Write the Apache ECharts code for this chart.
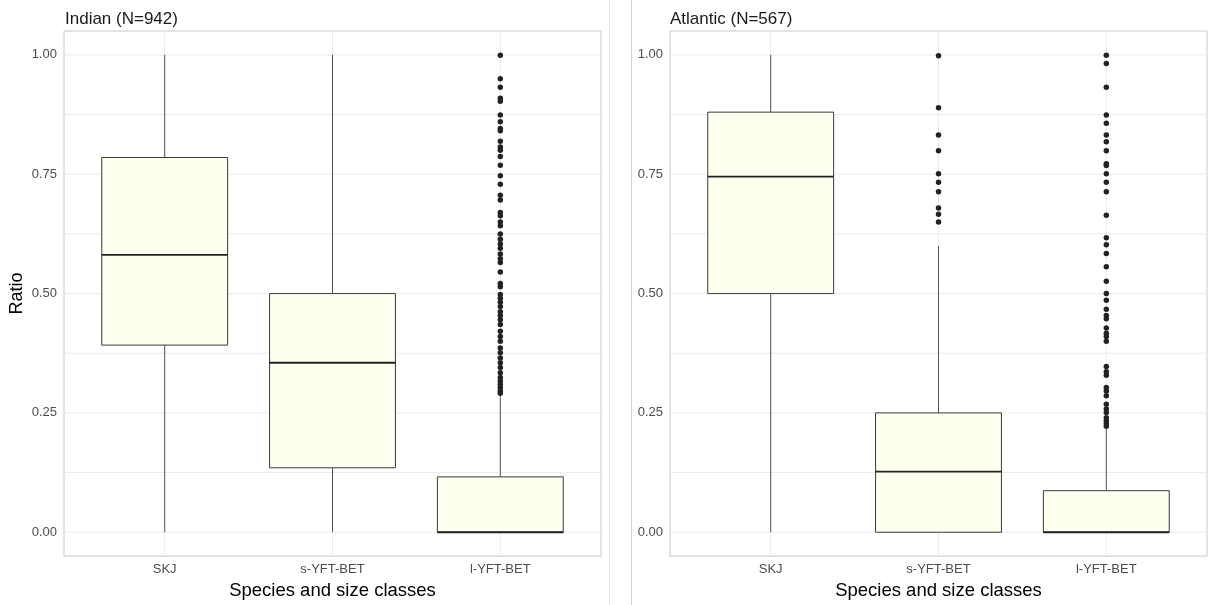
<!DOCTYPE html>
<html>
<head>
<meta charset="utf-8">
<script src="https://cdn.jsdelivr.net/npm/echarts@6/dist/echarts.min.js"></script>
<style>
html,body{margin:0;padding:0;background:#fff;}
#chart{width:1210px;height:605px;}
</style>
</head>
<body>
<div id="chart"></div>
<script>
// ---- data ----
const categories = ['SKJ', 's-YFT-BET', 'l-YFT-BET'];
const yTicks = [0, 0.25, 0.5, 0.75, 1.0];
const yGrid = [0, 0.125, 0.25, 0.375, 0.5, 0.625, 0.75, 0.875, 1.0];
const panelTitles = ['Indian (N=942)', 'Atlantic (N=567)'];

// [lower whisker, Q1, median, Q3, upper whisker]
const indianBoxes = [
  [0, 0.392, 0.581, 0.785, 1.0],
  [0, 0.135, 0.355, 0.500, 1.0],
  [0, 0.0, 0.0, 0.116, 0.289]
];
const atlanticBoxes = [
  [0, 0.500, 0.745, 0.880, 1.0],
  [0, 0.0, 0.127, 0.250, 0.600],
  [0, 0.0, 0.0, 0.087, 0.218]
];

const indianOutliersL = [0.999, 0.950, 0.932, 0.909, 0.903, 0.874, 0.860, 0.846, 0.841, 0.819, 0.807, 0.800,
  0.787, 0.769, 0.747, 0.729, 0.706, 0.696, 0.670, 0.663, 0.650, 0.642, 0.625, 0.614, 0.604, 0.595, 0.583,
  0.573, 0.565, 0.545, 0.521, 0.514, 0.498, 0.490, 0.482, 0.473, 0.462, 0.454, 0.445, 0.435, 0.421, 0.410,
  0.400, 0.386, 0.376, 0.365, 0.355, 0.345, 0.334, 0.324, 0.317, 0.310, 0.303, 0.296, 0.291];

const atlanticOutliersS = [0.998, 0.889, 0.832, 0.799, 0.751, 0.733, 0.713, 0.679, 0.666, 0.650];
const atlanticOutliersL = [0.999, 0.982, 0.932, 0.874, 0.857, 0.832, 0.818, 0.799, 0.772, 0.768, 0.751,
  0.733, 0.713, 0.664, 0.617, 0.602, 0.584, 0.556, 0.526, 0.500, 0.486, 0.467, 0.454, 0.447, 0.428, 0.417,
  0.410, 0.400, 0.347, 0.336, 0.329, 0.303, 0.296, 0.286, 0.268, 0.258, 0.251, 0.240, 0.233, 0.227, 0.222];

// ---- helpers ----
const FONT = '"Liberation Sans", Arial, sans-serif';
const BOX_HALF = 0.375;
const X_MIN = 0.4, X_MAX = 3.6;

function boxData(boxes) {
  return boxes.map((b, i) => [i + 1].concat(b));
}
function outlierData(idx, vals) {
  return vals.map(v => [idx, v]);
}

function renderBox(params, api) {
  const x = api.value(0);
  const lo = api.value(1), q1 = api.value(2), med = api.value(3), q3 = api.value(4), hi = api.value(5);
  const pL = api.coord([x - BOX_HALF, q3]);
  const pR = api.coord([x + BOX_HALF, q1]);
  const c = api.coord([x, 0]);
  const yLo = api.coord([x, lo])[1], yHi = api.coord([x, hi])[1];
  const yQ1 = pR[1], yQ3 = pL[1];
  const yMed = api.coord([x, med])[1];
  const children = [];
  if (hi > q3) children.push({type: 'line', shape: {x1: c[0], y1: yHi, x2: c[0], y2: yQ3}, style: {stroke: '#555', lineWidth: 1}});
  if (lo < q1) children.push({type: 'line', shape: {x1: c[0], y1: yQ1, x2: c[0], y2: yLo}, style: {stroke: '#555', lineWidth: 1}});
  children.push({type: 'rect', shape: {x: pL[0], y: yQ3, width: pR[0] - pL[0], height: yQ1 - yQ3},
    style: {fill: '#FEFFEE', stroke: '#3a3a3a', lineWidth: 1}});
  children.push({type: 'line', shape: {x1: pL[0], y1: yMed, x2: pR[0], y2: yMed}, style: {stroke: '#222', lineWidth: 1.8}});
  return {type: 'group', children: children};
}

function renderHGrid(params, api) {
  const v = api.value(0);
  const a = api.coord([X_MIN, v]), b = api.coord([X_MAX, v]);
  return {type: 'line', shape: {x1: a[0], y1: a[1], x2: b[0], y2: b[1]}, style: {stroke: '#ebebeb', lineWidth: 1}};
}
function renderVGrid(params, api) {
  const v = api.value(0);
  const a = api.coord([v, -0.05]), b = api.coord([v, 1.05]);
  return {type: 'line', shape: {x1: a[0], y1: a[1], x2: b[0], y2: b[1]}, style: {stroke: '#ebebeb', lineWidth: 1}};
}

const grids = [
  {left: 64, top: 31, width: 537, height: 529, show: true, borderColor: '#c8c8c8', borderWidth: 1, backgroundColor: 'transparent'},
  {left: 670, top: 31, width: 537, height: 529, show: true, borderColor: '#c8c8c8', borderWidth: 1, backgroundColor: 'transparent'}
];

function xAxisFor(g) {
  return {
    type: 'value', gridIndex: g, min: X_MIN, max: X_MAX,
    name: 'Species and size classes', nameLocation: 'middle', nameGap: 23,
    nameTextStyle: {fontFamily: FONT, fontSize: 18.5, color: '#000'},
    axisLine: {show: false}, axisTick: {show: false}, splitLine: {show: false},
    axisLabel: {customValues: [1, 2, 3], formatter: v => categories[Math.round(v) - 1] || '',
      fontFamily: FONT, fontSize: 13, color: '#4d4d4d', margin: 7}
  };
}
function yAxisFor(g) {
  const ax = {
    type: 'value', gridIndex: g, min: -0.05, max: 1.05,
    axisLine: {show: false}, axisTick: {show: false}, splitLine: {show: false},
    axisLabel: {customValues: yTicks, formatter: v => v.toFixed(2),
      fontFamily: FONT, fontSize: 13, color: '#4d4d4d', margin: 7}
  };
  if (g === 0) {
    ax.name = 'Ratio';
    ax.nameLocation = 'middle';
    ax.nameGap = 38;
    ax.nameTextStyle = {fontFamily: FONT, fontSize: 18, color: '#000'};
  }
  return ax;
}

const series = [];
[indianBoxes, atlanticBoxes].forEach((boxes, g) => {
  series.push({type: 'custom', xAxisIndex: g, yAxisIndex: g, z: 1, silent: true,
    renderItem: renderHGrid, data: yGrid.map(v => [v]), encode: {x: [], y: 0}, clip: true});
  series.push({type: 'custom', xAxisIndex: g, yAxisIndex: g, z: 1, silent: true,
    renderItem: renderVGrid, data: [1, 2, 3].map(v => [v]), encode: {x: 0, y: []}, clip: true});
  series.push({type: 'custom', xAxisIndex: g, yAxisIndex: g, z: 2, silent: true,
    renderItem: renderBox, data: boxData(boxes), encode: {x: 0, y: [1, 2, 3, 4, 5]}});
});
series.push({type: 'scatter', xAxisIndex: 0, yAxisIndex: 0, z: 3, silent: true, symbolSize: 5.5,
  itemStyle: {color: '#222', opacity: 1}, data: outlierData(3, indianOutliersL)});
series.push({type: 'scatter', xAxisIndex: 1, yAxisIndex: 1, z: 3, silent: true, symbolSize: 5.5,
  itemStyle: {color: '#222', opacity: 1}, data: outlierData(2, atlanticOutliersS).concat(outlierData(3, atlanticOutliersL))});

const option = {
  animation: false,
  backgroundColor: '#fff',
  title: [
    {text: panelTitles[0], left: 65, top: 11, padding: 0, textStyle: {fontFamily: FONT, fontSize: 17, fontWeight: 'normal', color: '#1a1a1a'}},
    {text: panelTitles[1], left: 670, top: 11, padding: 0, textStyle: {fontFamily: FONT, fontSize: 17, fontWeight: 'normal', color: '#1a1a1a'}}
  ],
  grid: grids,
  xAxis: [xAxisFor(0), xAxisFor(1)],
  yAxis: [yAxisFor(0), yAxisFor(1)],
  graphic: [
    {type: 'line', shape: {x1: 609.5, y1: 0, x2: 609.5, y2: 605}, style: {stroke: '#e6e6e6', lineWidth: 1}, silent: true},
    {type: 'line', shape: {x1: 631.5, y1: 0, x2: 631.5, y2: 605}, style: {stroke: '#d6d6d6', lineWidth: 1}, silent: true}
  ],
  series: series
};

const chart = echarts.init(document.getElementById('chart'), null, {renderer: 'canvas'});
chart.setOption(option);
</script>
</body>
</html>
